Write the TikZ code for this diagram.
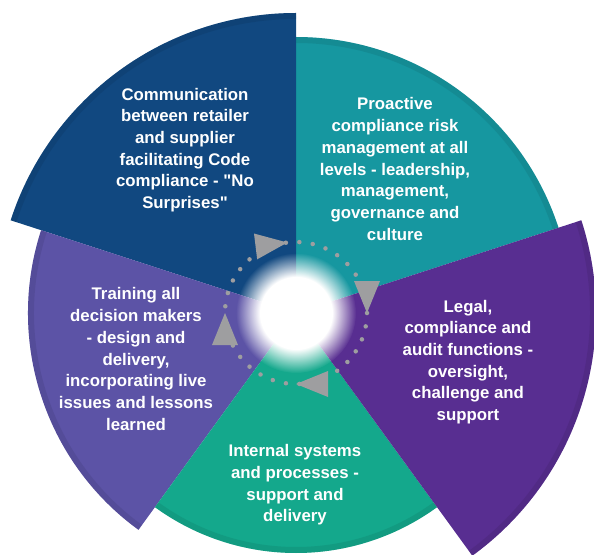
\documentclass[tikz,border=0pt]{standalone}
\usepackage{fontspec}
\setmainfont{Liberation Sans}[Ligatures=TeXOff]
\usetikzlibrary{fadings}

\definecolor{commblue}{RGB}{17,72,128}
\definecolor{riskteal}{RGB}{22,151,160}
\definecolor{legalpurple}{RGB}{88,46,145}
\definecolor{systemsgreen}{RGB}{20,168,140}
\definecolor{traininglilac}{RGB}{92,83,166}
\definecolor{cyclegrey}{RGB}{158,158,160}

\pgfdeclareradialshading{glowshading}{\pgfpointorigin}{color(0bp)=(white); color(15bp)=(white); color(25bp)=(black); color(50bp)=(black)}
\pgfdeclarefading{glowfading}{\pgfuseshading{glowshading}}

\begin{document}
\begin{tikzpicture}[x=1pt, y=1pt,
    label text/.style={text=white, align=center, inner sep=0pt, font=\fontsize{16.8}{21.7}\selectfont\bfseries},
    rim/.style={line width=6pt, draw=#1!70!black, draw opacity=0.25},
    cycle dots/.style={draw=cyclegrey, line width=4.5pt, line cap=round, dash pattern=on 0pt off 13.52pt},
    cycle head/.style={fill=cyclegrey}]

\useasboundingbox (-296,-241) rectangle (298,313);

% the five sectors
\fill[riskteal] (0,0) -- (18:276) arc[start angle=18, end angle=90, radius=276] -- cycle;
\fill[commblue] (0,0) -- (90:300) arc[start angle=90, end angle=162, radius=300] -- cycle;
\fill[traininglilac] (0,0) -- (162:268) arc[start angle=162, end angle=234, radius=268] -- cycle;
\fill[systemsgreen] (0,0) -- (234:240) arc[start angle=234, end angle=306, radius=240] -- cycle;
\fill[legalpurple] (0,0) -- (-54:300) arc[start angle=-54, end angle=18, radius=300] -- cycle;

% shaded rims
\draw[rim=riskteal] (18:273) arc[start angle=18, end angle=90, radius=273];
\draw[rim=commblue] (90:297) arc[start angle=90, end angle=162, radius=297];
\draw[rim=traininglilac] (162:265) arc[start angle=162, end angle=234, radius=265];
\draw[rim=systemsgreen] (234:237) arc[start angle=234, end angle=306, radius=237];
\draw[rim=legalpurple] (-54:297) arc[start angle=-54, end angle=18, radius=297];

% glow in the middle
\fill[white, path fading=glowfading] (0,0) circle (60);

% dotted cycle
\draw[cycle dots] (0,0) circle (71);
\fill[cycle head] (71,0) -- (84,32) -- (58,32) -- cycle;
\fill[cycle head, rotate=97] (71,0) -- (84,32) -- (58,32) -- cycle;
\fill[cycle head, rotate=180] (71,0) -- (84,32) -- (58,32) -- cycle;
\fill[cycle head, rotate=270] (71,0) -- (84,32) -- (58,32) -- cycle;

% texts
\node[label text] (comms) at (-111,163) {Communication\\between retailer\\and supplier\\facilitating Code\\compliance - "No\\Surprises"};
\node[label text] (risk) at (99,144) {Proactive\\compliance risk\\management at all\\levels - leadership,\\management,\\governance and\\culture};
\node[label text] (legal) at (172,-49) {Legal,\\compliance and\\audit functions -\\oversight,\\challenge and\\support};
\node[label text] (systems) at (-1,-172) {Internal systems\\and processes -\\support and\\delivery};
\node[label text] (training) at (-160,-46) {Training all\\decision makers\\- design and\\delivery,\\incorporating live\\issues and lessons\\learned};

\end{tikzpicture}
\end{document}
